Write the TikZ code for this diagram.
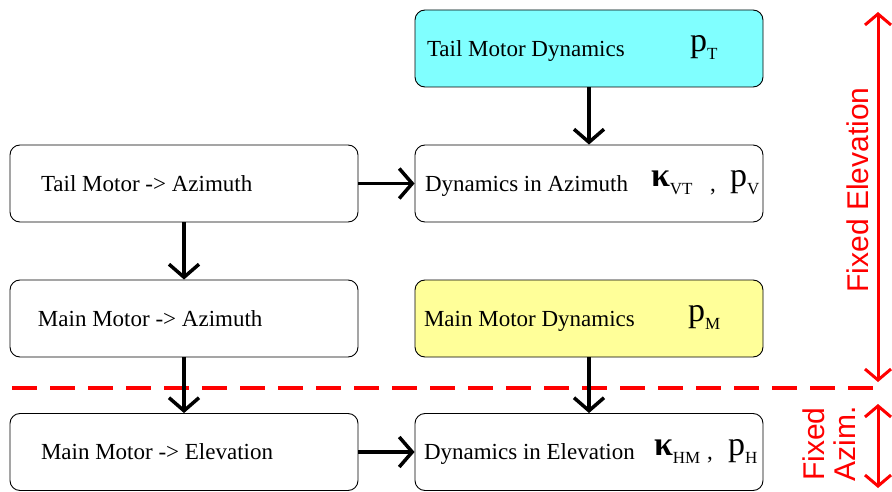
\documentclass[tikz,border=0pt]{standalone}
\usepackage{fontspec}
\setmainfont{Liberation Serif}
\setsansfont{Liberation Sans}
\usetikzlibrary{arrows.meta}

\definecolor{tailcyan}{HTML}{80FFFF}
\definecolor{mainyellow}{HTML}{FFFF99}
\definecolor{limitred}{HTML}{FF0000}

% place content at a horizontal offset from the left edge of a box
\newcommand\putat[2]{\makebox[0pt][l]{\hspace{#1}#2}}
% large symbol with a lowered index
\newcommand\bigsym[2]{\raisebox{4.5pt}{\fontsize{34}{34}\selectfont #1}\raisebox{-3.5pt}{\fontsize{17}{17}\selectfont #2}}
\newcommand\boxtext[1]{\makebox[348pt][l]{#1}}

\begin{document}
\begin{tikzpicture}[x=1pt,y=-1pt,
  blockbox/.style={draw=black, line width=0.9pt, rounded corners=10pt,
    minimum width=348pt, minimum height=77pt, inner sep=0pt,
    font=\fontsize{23}{23}\selectfont},
  flow/.style={line width=3.5pt, -{Straight Barb[length=13pt,width=30pt]}},
  rangearrow/.style={draw=limitred, line width=3pt,
    {Straight Barb[length=11pt,width=26pt]}-{Straight Barb[length=11pt,width=26pt]}},
  rangelabel/.style={text=limitred, font=\sffamily\fontsize{30}{31}\selectfont,
    rotate=90, align=center, inner sep=0pt}]

\useasboundingbox (0,0) rectangle (892,492);

% left column
\node[blockbox] (tma) at (184,183.5) {\boxtext{\putat{31pt}{Tail Motor -> Azimuth}}};
\node[blockbox] (mma) at (184,318.5) {\boxtext{\putat{28pt}{Main Motor -> Azimuth}}};
\node[blockbox] (mme) at (184,452) {\boxtext{\putat{31pt}{Main Motor -> Elevation}}};

% right column
\node[blockbox, fill=tailcyan] (tmd) at (589,48.5)
  {\boxtext{\putat{12pt}{Tail Motor Dynamics}\putat{275pt}{\bigsym{p}{T}}}};
\node[blockbox] (dia) at (589,183.5)
  {\boxtext{\putat{10pt}{Dynamics in Azimuth}\putat{236pt}{\bigsym{\bfseries κ}{VT}}\putat{295pt}{,}\putat{315pt}{\bigsym{p}{V}}}};
\node[blockbox, fill=mainyellow] (mmd) at (589,318.5)
  {\boxtext{\putat{9pt}{Main Motor Dynamics}\putat{273pt}{\bigsym{p}{M}}}};
\node[blockbox] (die) at (589,452)
  {\boxtext{\putat{9pt}{Dynamics in Elevation}\putat{239pt}{\bigsym{\bfseries κ}{HM}}\putat{292pt}{,}\putat{313pt}{\bigsym{p}{H}}}};

% boundary between the two operating regions
\draw[limitred, line width=4pt, dash pattern=on 25pt off 13pt] (12,388) -- (885,388);

% signal flow
\draw[flow] (tma.east) -- (dia.west);
\draw[flow] (mme.east) -- (die.west);
\draw[flow] (tmd.south) -- (dia.north);
\draw[flow] (tma.south) -- (mma.north);
\draw[flow] (mma.south) -- (mme.north);
\draw[flow] (mmd.south) -- (die.north);

% operating ranges
\coordinate (elevtop) at (878,12);
\coordinate (elevbot) at (878,382);
\coordinate (azimtop) at (878,404);
\coordinate (azimbot) at (878,488);
\draw[rangearrow] (elevtop) -- (elevbot);
\draw[rangearrow] (azimtop) -- (azimbot);
\node[rangelabel] (elevlabel) at (858,190) {Fixed Elevation};
\node[rangelabel] (azimlabel) at (829,444) {Fixed\\Azim.};
\end{tikzpicture}
\end{document}
